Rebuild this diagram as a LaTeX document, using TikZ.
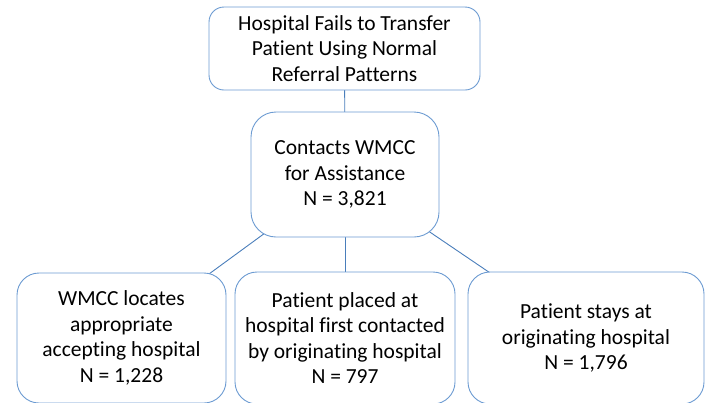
\documentclass[tikz,border=0pt]{standalone}
\usepackage{fontspec}
\setmainfont{Carlito}[Ligatures=CommonOff]
\usetikzlibrary{backgrounds}
\definecolor{boxline}{RGB}{108,155,210}
\definecolor{conline}{RGB}{74,126,187}
\tikzset{
  box/.style={draw=boxline, line width=0.9pt, fill=white, rectangle, align=center,
    font=\fontsize{21.5}{25.5}\selectfont, inner sep=0pt},
  conn/.style={draw=conline, line width=0.9pt}
}
\begin{document}
\begin{tikzpicture}[x=1pt,y=-1pt]
\useasboundingbox (0,0) rectangle (709,402);
\node[box, minimum width=271pt, minimum height=83pt, rounded corners=15pt] (top) at (344.5,48.5)
  {Hospital Fails to Transfer\\Patient Using Normal\\Referral Patterns};
\node[box, minimum width=188pt, minimum height=125pt, rounded corners=25pt] (mid) at (345,174.5)
  {Contacts WMCC\\for Assistance\\N = 3,821};
\node[box, minimum width=209pt, minimum height=130pt, rounded corners=22pt] (bl) at (121.5,338)
  {WMCC locates\\appropriate\\accepting hospital\\N = 1,228};
\node[box, minimum width=220pt, minimum height=132pt, rounded corners=22pt] (bm) at (345,338)
  {Patient placed at\\hospital first contacted\\by originating hospital\\N = 797};
\node[box, minimum width=236pt, minimum height=132pt, rounded corners=22pt] (br) at (586,338)
  {Patient stays at\\originating hospital\\N = 1,796};
\begin{scope}[on background layer]
\draw[conn] (top.center) -- (mid.center);
\draw[conn] (mid.center) -- (bl.center);
\draw[conn] (mid.center) -- (bm.center);
\draw[conn] (mid.center) -- (br.center);
\end{scope}
\end{tikzpicture}
\end{document}
